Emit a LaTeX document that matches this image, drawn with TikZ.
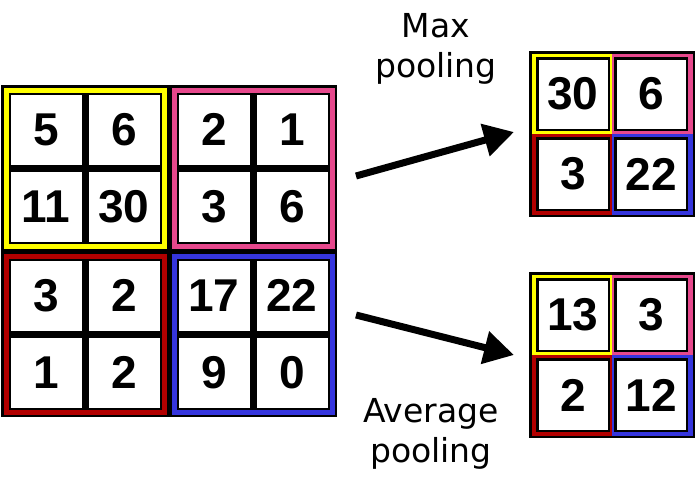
\documentclass[tikz,border=0pt]{standalone}
\usepackage{fontspec}
\usepackage{xcolor}
\newfontfamily\numfont{Liberation Sans}
\newfontfamily\lblfont{DejaVu Sans}
\usetikzlibrary{arrows.meta}
\definecolor{qyellow}{HTML}{FFFF00}
\definecolor{qpink}{HTML}{E6488C}
\definecolor{qred}{HTML}{B20000}
\definecolor{qblue}{HTML}{3535DD}

\begin{document}
\begin{tikzpicture}[x=1pt,y=-1pt,
  cell/.style={fill=white,inner sep=0pt,minimum width=71pt,minimum height=70pt,
    font=\fontsize{46}{50}\selectfont\numfont\bfseries},
  outcell/.style={cell,draw=black,line width=2.5pt,minimum width=71.5pt,minimum height=71.5pt},
  band/.style={line width=5pt},
  lbl/.style={align=center,inner sep=0pt,anchor=north,
    font=\fontsize{33}{40}\selectfont\lblfont},
  poolarrow/.style={line width=7pt,-{Triangle[length=30pt,width=32pt]}}]
\useasboundingbox (0,0) rectangle (696,482);

% Input 4x4 grid, top left block
\fill[black] (1,85) rectangle (169,251);
\draw[band,qyellow] (6,90) rectangle (164,246);
\node[cell] (i11) at (46,129.5) {5};
\node[cell] (i12) at (124,129.5) {6};
\node[cell] (i21) at (46,206.5) {11};
\node[cell] (i22) at (124,206.5) {30};

% top right block
\fill[black] (169,85) rectangle (337,251);
\draw[band,qpink] (174,90) rectangle (332,246);
\node[cell] (i13) at (214,129.5) {2};
\node[cell] (i14) at (292,129.5) {1};
\node[cell] (i23) at (214,206.5) {3};
\node[cell] (i24) at (292,206.5) {6};

% bottom left block
\fill[black] (1,251) rectangle (169,417);
\draw[band,qred] (6,256) rectangle (164,412);
\node[cell] (i31) at (46,295.5) {3};
\node[cell] (i32) at (124,295.5) {2};
\node[cell] (i41) at (46,372.5) {1};
\node[cell] (i42) at (124,372.5) {2};

% bottom right block
\fill[black] (169,251) rectangle (337,417);
\draw[band,qblue] (174,256) rectangle (332,412);
\node[cell] (i33) at (214,295.5) {17};
\node[cell] (i34) at (292,295.5) {22};
\node[cell] (i43) at (214,372.5) {9};
\node[cell] (i44) at (292,372.5) {0};

% Max pooling output
\fill[qyellow] (529,51) rectangle (612,134);
\fill[qpink] (612,51) rectangle (695,134);
\fill[qred] (529,134) rectangle (612,217);
\fill[qblue] (612,134) rectangle (695,217);
\draw[black,line width=2.5pt] (530.25,52.25) rectangle (693.75,215.75);
\node[outcell] (m11) at (573,94) {30};
\node[outcell] (m12) at (651,94) {6};
\node[outcell] (m21) at (573,174) {3};
\node[outcell] (m22) at (651,174) {22};

% Average pooling output
\fill[qyellow] (529,272) rectangle (612,355);
\fill[qpink] (612,272) rectangle (695,355);
\fill[qred] (529,355) rectangle (612,438);
\fill[qblue] (612,355) rectangle (695,438);
\draw[black,line width=2.5pt] (530.25,273.25) rectangle (693.75,436.75);
\node[outcell] (v11) at (573,315) {13};
\node[outcell] (v12) at (651,315) {3};
\node[outcell] (v21) at (573,395) {2};
\node[outcell] (v22) at (651,395) {12};

% Arrows and labels
\coordinate (maxtail) at (356,176);
\coordinate (maxtip) at (514,132);
\coordinate (avgtail) at (356,315);
\coordinate (avgtip) at (514,355);
\draw[poolarrow] (maxtail) -- (maxtip);
\draw[poolarrow] (avgtail) -- (avgtip);

\node[lbl] (maxlbl) at (436,13) {Max\\pooling};
\node[lbl] (avglbl) at (431,398) {Average\\pooling};

\end{tikzpicture}
\end{document}
